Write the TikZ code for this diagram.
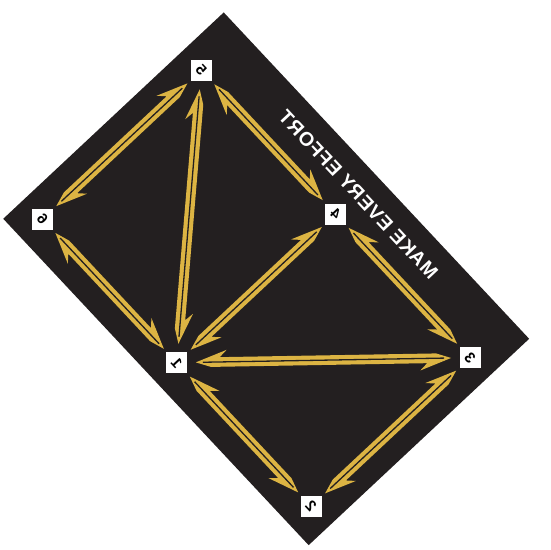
\documentclass[tikz,border=0pt]{standalone}
\usepackage{fontspec}
\usepackage{graphicx}
\setmainfont{Liberation Sans}
\newfontfamily\signfont[LetterSpace=4]{Liberation Sans}
\usetikzlibrary{calc}
\definecolor{boardblack}{HTML}{231F20}
\definecolor{arrowgold}{HTML}{DCB443}
\tikzset{
  spot/.style={fill=white, minimum size=21pt, inner sep=0pt, font=\bfseries\fontsize{15}{15}\selectfont},
  shaft/.style={fill=arrowgold},
  groove/.style={draw=boardblack, line width=1.3pt},
}
% digit as printed: mirrored and turned with the board
\newcommand{\flipdigit}[1]{\rotatebox{-46.9}{\reflectbox{#1}}}
% double arrow between two spots, #3 = side of the barbs
\newcommand{\spear}[3]{%
  \fill[shaft] let \p1=($(#2)-(#1)$), \n1={atan2(\y1,\x1)}, \n2={veclen(\x1,\y1)} in
    [shift={(#1)}, rotate=\n1]
    (19pt,0pt) -- (50pt,{-12pt*#3}) -- (43pt,{-4.8pt*#3}) -- ({\n2-34pt},{-4.8pt*#3})
    -- ({\n2-19pt},0pt) -- ({\n2-50pt},{12pt*#3}) -- ({\n2-43pt},{4.8pt*#3})
    -- (34pt,{4.8pt*#3}) -- cycle;
  \draw[groove] let \p1=($(#2)-(#1)$), \n1={atan2(\y1,\x1)}, \n2={veclen(\x1,\y1)} in
    [shift={(#1)}, rotate=\n1] (26pt,0pt) -- ({\n2-26pt},0pt);
}
\begin{document}
\begin{tikzpicture}[x=1pt, y=1pt]
  \useasboundingbox (0,0) rectangle (550,-550);
  \def\ustep{196.7}
  \def\vstep{217.6}
  \begin{scope}[shift={(201.3,-70.4)}, rotate=-46.9]
    \fill[boardblack] (-27,56) rectangle (420,-246);
    \node[spot] (n5) at (0,0) {\flipdigit{5}};
    \node[spot] (n4) at (\ustep,0) {\flipdigit{4}};
    \node[spot] (n3) at (2*\ustep,0) {\flipdigit{3}};
    \node[spot] (n6) at (0,-\vstep) {\flipdigit{6}};
    \node[spot] (n1) at (\ustep,-\vstep) {\flipdigit{1}};
    \node[spot] (n2) at (2*\ustep,-\vstep) {\flipdigit{2}};
    \node[rotate=-46.9, xscale=-1, text=white, font=\signfont\bfseries\fontsize{19.5}{19.5}\selectfont]
      (motto) at (198,30) {MAKE EVERY EFFORT};
  \end{scope}
  \spear{n5}{n6}{1}
  \spear{n5}{n4}{1}
  \spear{n5}{n1}{1}
  \spear{n6}{n1}{1}
  \spear{n4}{n1}{1}
  \spear{n4}{n3}{-1}
  \spear{n1}{n3}{-1}
  \spear{n1}{n2}{-1}
  \spear{n3}{n2}{1}
\end{tikzpicture}
\end{document}
